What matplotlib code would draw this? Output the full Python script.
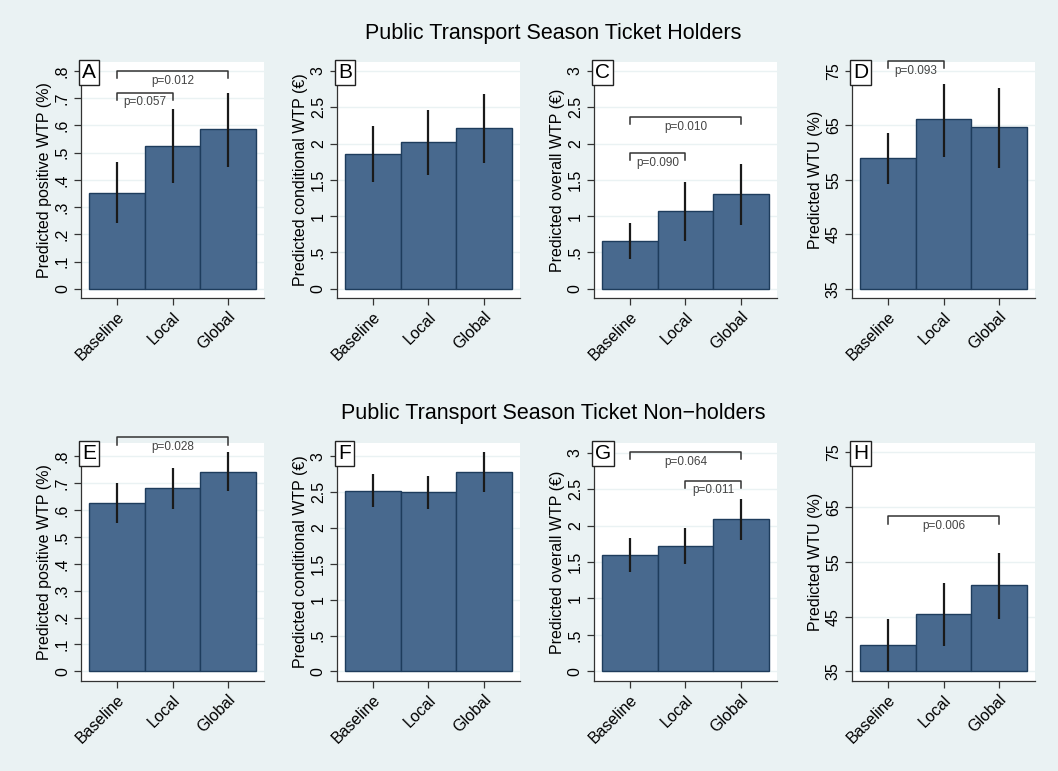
"""Predicted WTP / WTU by treatment group, season ticket holders vs non-holders."""

import matplotlib
matplotlib.use("Agg")
import matplotlib.pyplot as plt

plt.rcParams["font.family"] = ["Liberation Sans", "DejaVu Sans"]

groups = ["Baseline", "Local", "Global"]

# top row: season ticket holders
a_mean = [0.353, 0.526, 0.586]
a_lo = [0.240, 0.390, 0.449]
a_hi = [0.465, 0.661, 0.721]
b_mean = [1.860, 2.020, 2.212]
b_lo = [1.466, 1.562, 1.731]
b_hi = [2.240, 2.469, 2.684]
c_mean = [0.664, 1.072, 1.305]
c_lo = [0.412, 0.664, 0.884]
c_hi = [0.902, 1.466, 1.722]
d_mean = [59.0, 66.1, 64.7]
d_lo = [54.2, 59.2, 57.2]
d_hi = [63.7, 72.7, 71.9]

# bottom row: non-holders
e_mean = [0.627, 0.682, 0.743]
e_lo = [0.551, 0.605, 0.671]
e_hi = [0.700, 0.756, 0.815]
f_mean = [2.524, 2.505, 2.781]
f_lo = [2.300, 2.267, 2.505]
f_hi = [2.753, 2.725, 3.056]
g_mean = [1.601, 1.725, 2.092]
g_lo = [1.367, 1.472, 1.803]
g_hi = [1.835, 1.972, 2.367]
h_mean = [39.9, 45.5, 50.8]
h_lo = [35.0, 39.6, 44.6]
h_hi = [44.6, 51.2, 56.7]

share_ticks = [0, 0.1, 0.2, 0.3, 0.4, 0.5, 0.6, 0.7, 0.8]
share_labels = ["0", ".1", ".2", ".3", ".4", ".5", ".6", ".7", ".8"]
euro_ticks = [0, 0.5, 1, 1.5, 2, 2.5, 3]
euro_labels = ["0", ".5", "1", "1.5", "2", "2.5", "3"]
wtu_ticks = [35, 45, 55, 65, 75]
wtu_labels = ["35", "45", "55", "65", "75"]

# brackets: (from group, to group, line height, label)
a_brackets = [(0, 2, 0.800, "p=0.012"), (0, 1, 0.721, "p=0.057")]
c_brackets = [(0, 2, 2.368, "p=0.010"), (0, 1, 1.873, "p=0.090")]
d_brackets = [(0, 1, 76.8, "p=0.093")]
e_brackets = [(0, 2, 0.871, "p=0.028")]
g_brackets = [(0, 2, 3.005, "p=0.064"), (1, 2, 2.615, "p=0.011")]
h_brackets = [(0, 2, 63.3, "p=0.006")]

BG = "#EAF2F3"
BAR = "#48698E"
EDGE = "#1E3C5C"

panels = [
    ("A", "Predicted positive WTP (%)", a_mean, a_lo, a_hi, share_ticks, share_labels, (-0.034, 0.833), a_brackets),
    ("B", "Predicted conditional WTP (€)", b_mean, b_lo, b_hi, euro_ticks, euro_labels, (-0.128, 3.124), []),
    ("C", "Predicted overall WTP (€)", c_mean, c_lo, c_hi, euro_ticks, euro_labels, (-0.128, 3.124), c_brackets),
    ("D", "Predicted WTU (%)", d_mean, d_lo, d_hi, wtu_ticks, wtu_labels, (33.3, 76.65), d_brackets),
    ("E", "Predicted positive WTP (%)", e_mean, e_lo, e_hi, share_ticks, share_labels, (-0.036, 0.850), e_brackets),
    ("F", "Predicted conditional WTP (€)", f_mean, f_lo, f_hi, euro_ticks, euro_labels, (-0.135, 3.187), []),
    ("G", "Predicted overall WTP (€)", g_mean, g_lo, g_hi, euro_ticks, euro_labels, (-0.133, 3.133), g_brackets),
    ("H", "Predicted WTU (%)", h_mean, h_lo, h_hi, wtu_ticks, wtu_labels, (33.23, 76.7), h_brackets),
]

lefts = [0.0766, 0.3185, 0.5614, 0.8053]
width = 0.173
rows = [(0.6135, 0.306), (0.1167, 0.3087)]

fig = plt.figure(figsize=(10.58, 7.71), dpi=100, facecolor=BG)

for k, (letter, ylabel, mean, lo, hi, ticks, tlabels, ylim, brackets) in enumerate(panels):
    bottom, height = rows[k // 4]
    ax = fig.add_axes([lefts[k % 4], bottom, width, height])
    ax.set_facecolor("white")
    x = [1, 2, 3]

    # bars start at the lowest labelled tick (0, or 35 for WTU)
    base = ticks[0]
    ax.bar(x, [m - base for m in mean], width=1.0, bottom=base,
           color=BAR, edgecolor=EDGE, linewidth=1.0, zorder=2)
    ax.vlines(x, lo, hi, color="#1a1a1a", linewidth=1.6, zorder=3)

    ax.set_xlim(0.35, 3.65)
    ax.set_ylim(*ylim)
    ax.set_yticks(ticks)
    ax.set_yticklabels(tlabels, rotation=90, va="center", fontsize=11.5)
    ax.set_xticks(x)
    ax.set_xticklabels(groups, rotation=45, ha="right", rotation_mode="anchor", fontsize=11.5)
    ax.set_ylabel(ylabel, fontsize=11.5, labelpad=2)
    ax.tick_params(direction="out", length=5, width=0.9, color="#333333", pad=3)
    for side in ("top", "right"):
        ax.spines[side].set_visible(False)
    for side in ("left", "bottom"):
        ax.spines[side].set_color("#333333")
        ax.spines[side].set_linewidth(0.9)
    for t in ticks:
        ax.axhline(t, color=BG, linewidth=1.0, zorder=1)

    ax.text(0.005, 0.995, letter, transform=ax.transAxes, ha="left", va="top", fontsize=15,
            bbox=dict(boxstyle="square,pad=0.15", facecolor="white", edgecolor="#222222", linewidth=1.0),
            zorder=5)

    hook = 0.03 * (ylim[1] - ylim[0])
    for i, j, yb, label in brackets:
        ax.plot([x[i], x[i], x[j], x[j]], [yb - hook, yb, yb, yb - hook], color="#333333",
                linewidth=1.1, clip_on=False, zorder=4)
        ax.annotate(label, xy=((x[i] + x[j]) / 2, yb), xytext=(0, -7), textcoords="offset points",
                    ha="center", va="center", fontsize=8.5, color="#444444", zorder=4,
                    annotation_clip=False)

fig.text(0.523, 0.957, "Public Transport Season Ticket Holders", ha="center", va="center", fontsize=15.5)
fig.text(0.523, 0.464, "Public Transport Season Ticket Non\u2212holders", ha="center", va="center", fontsize=15.5)

fig.savefig("out.png", dpi=100, facecolor=BG)
